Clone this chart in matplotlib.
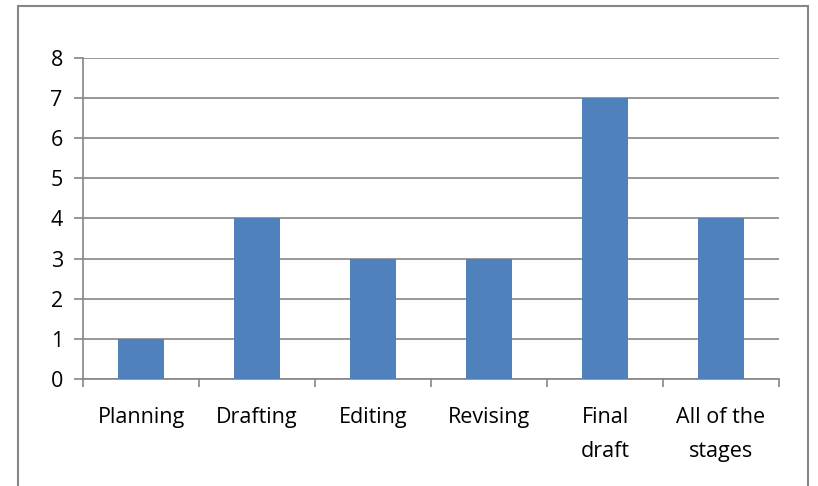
import matplotlib
matplotlib.use("Agg")
import matplotlib.pyplot as plt
from matplotlib.patches import Rectangle

stages = ["Planning", "Drafting", "Editing", "Revising", "Final\ndraft", "All of the\nstages"]
counts = [1, 4, 3, 3, 7, 4]

plt.rcParams['font.family'] = ['Open Sans', 'DejaVu Sans']

fig = plt.figure(figsize=(8.18, 4.86), dpi=100)
fig.patch.set_facecolor("white")

# outer chart border, like the excel chart frame
frame = Rectangle((18/818, -0.05), (808-18)/818, 1.05 - 6/486, transform=fig.transFigure,
                  fill=False, edgecolor="#868686", linewidth=1.5, clip_on=False)
fig.patches.append(frame)

ax = fig.add_axes([83/818, 1 - 379/486, (779-83)/818, (379-58)/486])
x = list(range(len(stages)))
ax.bar(x, counts, width=0.4, color="#4F81BD", zorder=3)

ax.set_xlim(-0.5, len(stages) - 0.5)
ax.set_ylim(0, 8)
ax.set_yticks(range(0, 9))
ax.yaxis.grid(True, color="#868686", linewidth=1.2, zorder=0)

ax.set_xticks(x)
ax.set_xticklabels(stages, linespacing=1.85)
ax.set_xticks([i - 0.5 for i in range(len(stages) + 1)], minor=True)
ax.tick_params(axis="x", which="major", length=0, pad=20, labelsize=15.5)
ax.tick_params(axis="x", which="minor", length=6, width=1.2, color="#868686")
ax.tick_params(axis="y", length=6.5, width=1.2, color="#868686", pad=8, labelsize=15.5)

for s in ["top", "right"]:
    ax.spines[s].set_visible(False)
for s in ["left", "bottom"]:
    ax.spines[s].set_color("#868686")
    ax.spines[s].set_linewidth(1.2)

fig.savefig("out.png", dpi=100)
